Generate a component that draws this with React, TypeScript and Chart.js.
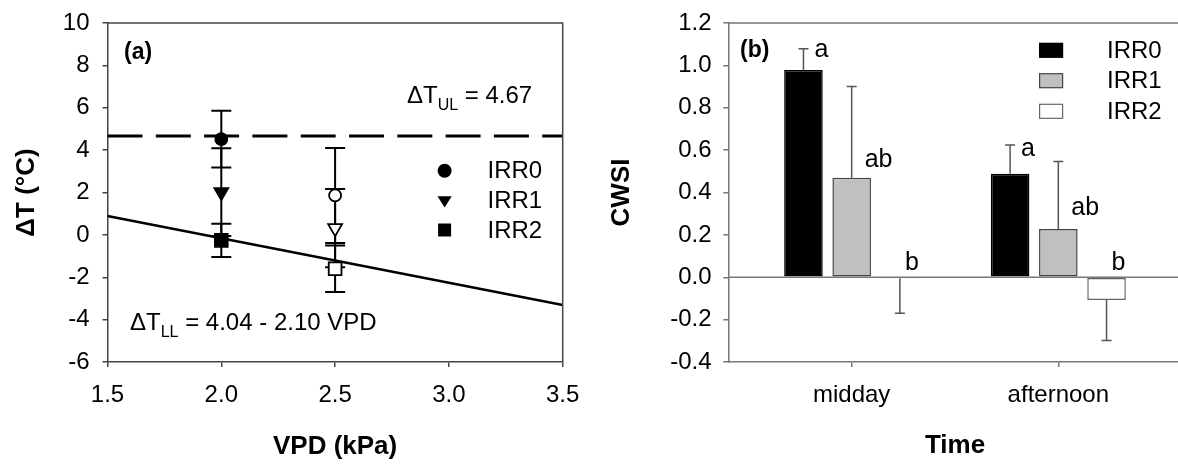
import React, { useEffect, useRef } from 'react';
import { Chart, registerables } from 'chart.js';

Chart.register(...registerables);

const FONT = "'Liberation Sans', Arial, Helvetica, sans-serif";
Chart.defaults.font.family = FONT;

// ---------- Panel (a) data ----------
const seriesNames = ['IRR0', 'IRR1', 'IRR2'];
const vpdValues = [2.0, 2.5];
const irr0DeltaT = [4.52, 1.86];
const irr0DeltaTErr = [1.34, 2.24];
const irr1DeltaT = [2.02, 0.32];
const irr1DeltaTErr = [2.07, 1.85];
const irr2DeltaT = [-0.26, -1.6];
const irr2DeltaTErr = [0.78, 1.1];
const upperLimitValue = 4.67;
const lineXRange = [1.5, 3.5];
const lowerLimitY = [0.89, -3.31];
const xTicksA = [1.5, 2.0, 2.5, 3.0, 3.5];
const yTicksA = [-6, -4, -2, 0, 2, 4, 6, 8, 10];

// ---------- Panel (b) data ----------
const timeCategories = ['midday', 'afternoon'];
const irr0Cwsi = [0.978, 0.488];
const irr0CwsiErr = [0.1, 0.136];
const irr1Cwsi = [0.47, 0.228];
const irr1CwsiErr = [0.43, 0.318];
const irr2Cwsi = [-0.005, -0.107];
const irr2CwsiErr = [0.165, 0.192];
const irr0Letters = ['a', 'a'];
const irr1Letters = ['ab', 'ab'];
const irr2Letters = ['b', 'b'];
const irr0LetterLevel = [1.04, 0.57];
const irr1LetterLevel = [0.52, 0.294];
const irr2LetterLevel = [0.034, 0.034];
const yTicksB = [-0.4, -0.2, 0.0, 0.2, 0.4, 0.6, 0.8, 1.0, 1.2];

const tickFont = { family: FONT, size: 24 };
const titleFont = { family: FONT, size: 26, weight: 'bold' as const };

// ---------- helpers ----------
function drawParts(ctx: CanvasRenderingContext2D, x: number, y: number, parts: { t: string; size: number; dy: number; bold?: boolean }[]) {
  let cx = x;
  ctx.textAlign = 'left';
  ctx.textBaseline = 'alphabetic';
  for (const p of parts) {
    ctx.font = `${p.bold ? 'bold ' : ''}${p.size}px ${FONT}`;
    ctx.fillText(p.t, cx, y + p.dy);
    cx += ctx.measureText(p.t).width;
  }
}

function markerPath(ctx: CanvasRenderingContext2D, kind: string, x: number, y: number, s: number) {
  ctx.beginPath();
  if (kind === 'circle') {
    ctx.arc(x, y, s, 0, Math.PI * 2);
  } else if (kind === 'triangle') {
    ctx.moveTo(x - s * 0.95, y - s * 0.5);
    ctx.lineTo(x + s * 0.95, y - s * 0.5);
    ctx.lineTo(x, y + s * 1.0);
    ctx.closePath();
  } else {
    ctx.rect(x - s, y - s, 2 * s, 2 * s);
  }
}

// ---------- Panel (a) ----------
const pointSeries = [
  { name: seriesNames[0], values: irr0DeltaT, errors: irr0DeltaTErr, style: 'circle', radius: 6, rotation: 0 },
  { name: seriesNames[1], values: irr1DeltaT, errors: irr1DeltaTErr, style: 'triangle', radius: 8, rotation: 180 },
  { name: seriesNames[2], values: irr2DeltaT, errors: irr2DeltaTErr, style: 'rect', radius: 9, rotation: 0 },
];

const errorBarsA = {
  id: 'errorBarsA',
  beforeDatasetsDraw(chart: any) {
    const { ctx, scales } = chart;
    const x = scales.x, y = scales.y;
    ctx.save();
    ctx.strokeStyle = '#000';
    ctx.lineWidth = 2;
    pointSeries.forEach((s) => {
      s.values.forEach((v, i) => {
        const px = x.getPixelForValue(vpdValues[i]);
        const top = y.getPixelForValue(v + s.errors[i]);
        const bot = y.getPixelForValue(v - s.errors[i]);
        ctx.beginPath();
        ctx.moveTo(px, top);
        ctx.lineTo(px, bot);
        ctx.moveTo(px - 10, top);
        ctx.lineTo(px + 10, top);
        ctx.moveTo(px - 10, bot);
        ctx.lineTo(px + 10, bot);
        ctx.stroke();
      });
    });
    ctx.restore();
  },
};

const decorA = {
  id: 'decorA',
  afterDraw(chart: any) {
    const { ctx, chartArea } = chart;
    ctx.save();
    // frame top & right
    ctx.strokeStyle = '#444';
    ctx.lineWidth = 1.5;
    ctx.beginPath();
    ctx.moveTo(chartArea.left, chartArea.top);
    ctx.lineTo(chartArea.right, chartArea.top);
    ctx.lineTo(chartArea.right, chartArea.bottom);
    ctx.stroke();

    ctx.fillStyle = '#000';
    drawParts(ctx, 124, 59, [{ t: '(a)', size: 23, dy: 0, bold: true }]);
    drawParts(ctx, 407, 102.5, [
      { t: 'ΔT', size: 24, dy: 0 },
      { t: 'UL', size: 16, dy: 7 },
      { t: ' = 4.67', size: 24, dy: 0 },
    ]);
    drawParts(ctx, 130, 330, [
      { t: 'ΔT', size: 24, dy: 0 },
      { t: 'LL', size: 16, dy: 7 },
      { t: ' = 4.04 - 2.10 VPD', size: 24, dy: 0 },
    ]);

    // legend
    const legY = [170.7, 200, 230];
    const legSize = [7, 7.5, 6.5];
    pointSeries.forEach((s, i) => {
      ctx.fillStyle = '#000';
      markerPath(ctx, s.style, 444.6, legY[i], legSize[i]);
      ctx.fill();
      ctx.font = `24px ${FONT}`;
      ctx.textAlign = 'left';
      ctx.textBaseline = 'middle';
      ctx.fillText(s.name, 487.5, legY[i] + 1);
    });
    ctx.restore();
  },
};

function makeConfigA(): any {
  const scatterSets = pointSeries.map((s) => ({
    type: 'scatter',
    label: s.name,
    data: vpdValues.map((xv, i) => ({ x: xv, y: s.values[i] })),
    pointStyle: s.style,
    pointRadius: s.radius,
    pointRotation: s.rotation,
    pointBorderWidth: 1.8,
    pointBorderColor: '#000',
    pointBackgroundColor: ['#000', '#fff'],
    showLine: false,
    order: 0,
  }));
  return {
    type: 'scatter',
    data: {
      datasets: [
        {
          type: 'line',
          label: 'upper',
          data: lineXRange.map((xv) => ({ x: xv, y: upperLimitValue })),
          borderColor: '#000',
          borderWidth: 3,
          borderDash: [35, 13.3],
          pointRadius: 0,
          fill: false,
          order: 2,
        },
        {
          type: 'line',
          label: 'lower',
          data: lineXRange.map((xv, i) => ({ x: xv, y: lowerLimitY[i] })),
          borderColor: '#000',
          borderWidth: 2.5,
          pointRadius: 0,
          fill: false,
          order: 2,
        },
        ...scatterSets,
      ],
    },
    options: {
      responsive: false,
      animation: false,
      layout: { padding: { top: 23, right: 27.3, bottom: 0, left: 0 } },
      plugins: { legend: { display: false }, tooltip: { enabled: false } },
      scales: {
        x: {
          type: 'linear',
          min: 1.5,
          max: 3.5,
          afterBuildTicks: (s: any) => { s.ticks = xTicksA.map((v) => ({ value: v })); },
          afterFit: (s: any) => { s.height = 102; s.paddingLeft = 0; s.paddingRight = 0; },
          ticks: { callback: (v: any) => Number(v).toFixed(1), font: tickFont, color: '#000', padding: 14, maxRotation: 0, autoSkip: false },
          grid: { drawOnChartArea: false, tickLength: 5, color: '#444', lineWidth: 1.5 },
          border: { color: '#444', width: 1.5 },
          title: { display: true, text: 'VPD (kPa)', font: titleFont, color: '#000', padding: { top: 0, bottom: 2 } },
        },
        y: {
          type: 'linear',
          min: -6,
          max: 10,
          afterBuildTicks: (s: any) => { s.ticks = yTicksA.map((v) => ({ value: v })); },
          afterFit: (s: any) => { s.width = 107.5; s.paddingTop = 0; s.paddingBottom = 0; },
          ticks: { callback: (v: any) => String(v), font: tickFont, color: '#000', padding: 13, autoSkip: false },
          grid: { drawOnChartArea: false, tickLength: 5, color: '#444', lineWidth: 1.5 },
          border: { color: '#444', width: 1.5 },
          title: { display: true, text: 'ΔT (°C)', font: titleFont, color: '#000', padding: { top: 11, bottom: 0 } },
        },
      },
    },
    plugins: [errorBarsA, decorA],
  };
}

// ---------- Panel (b) ----------
const barSeries = [
  { name: seriesNames[0], values: irr0Cwsi, errors: irr0CwsiErr, letters: irr0Letters, level: irr0LetterLevel, fill: '#000000', border: '#000000', dx: 11 },
  { name: seriesNames[1], values: irr1Cwsi, errors: irr1CwsiErr, letters: irr1Letters, level: irr1LetterLevel, fill: '#c0c0c0', border: '#444444', dx: 13 },
  { name: seriesNames[2], values: irr2Cwsi, errors: irr2CwsiErr, letters: irr2Letters, level: irr2LetterLevel, fill: '#ffffff', border: '#666666', dx: 5 },
];

const decorB = {
  id: 'decorB',
  afterDatasetsDraw(chart: any) {
    const { ctx, chartArea, scales } = chart;
    const y = scales.y;
    ctx.save();
    // zero line
    const y0 = y.getPixelForValue(0);
    ctx.strokeStyle = '#777';
    ctx.lineWidth = 1.5;
    ctx.beginPath();
    ctx.moveTo(chartArea.left, y0);
    ctx.lineTo(chartArea.right, y0);
    ctx.stroke();
    // error bars
    ctx.strokeStyle = '#555';
    ctx.lineWidth = 1.5;
    barSeries.forEach((s, di) => {
      const meta = chart.getDatasetMeta(di);
      meta.data.forEach((bar: any, i: number) => {
        const v = s.values[i];
        const e = s.errors[i];
        const end = v >= 0 ? v + e : v - e;
        const py0 = y.getPixelForValue(v);
        const py1 = y.getPixelForValue(end);
        ctx.beginPath();
        ctx.moveTo(bar.x, py0);
        ctx.lineTo(bar.x, py1);
        ctx.moveTo(bar.x - 5, py1);
        ctx.lineTo(bar.x + 5, py1);
        ctx.stroke();
        // significance letters
        ctx.fillStyle = '#000';
        drawParts(ctx, bar.x + s.dx, y.getPixelForValue(s.level[i]), [{ t: s.letters[i], size: 25, dy: 0 }]);
      });
    });
    ctx.restore();
  },
  afterDraw(chart: any) {
    const { ctx, chartArea } = chart;
    ctx.save();
    ctx.strokeStyle = '#777';
    ctx.lineWidth = 1.5;
    ctx.beginPath();
    ctx.moveTo(chartArea.left, chartArea.top);
    ctx.lineTo(chartArea.right, chartArea.top);
    ctx.stroke();
    ctx.fillStyle = '#000';
    drawParts(ctx, 150, 57, [{ t: '(b)', size: 23, dy: 0, bold: true }]);
    const legY = [50.3, 80.7, 111.3];
    barSeries.forEach((s, i) => {
      ctx.fillStyle = s.fill;
      ctx.fillRect(449.6, legY[i] - 7, 23, 14);
      ctx.strokeStyle = s.border;
      ctx.lineWidth = 1.2;
      ctx.strokeRect(449.6, legY[i] - 7, 23, 14);
      ctx.fillStyle = '#000';
      ctx.font = `24px ${FONT}`;
      ctx.textAlign = 'left';
      ctx.textBaseline = 'middle';
      ctx.fillText(s.name, 517, legY[i] + 1);
    });
    ctx.restore();
  },
};

function makeConfigB(): any {
  return {
    type: 'bar',
    data: {
      datasets: barSeries.map((s) => ({
        label: s.name,
        data: timeCategories.map((_, i) => ({ x: i, y: s.values[i] })),
        backgroundColor: s.fill,
        borderColor: s.border,
        borderWidth: 1.5,
        borderSkipped: false,
        categoryPercentage: 0.7,
        barPercentage: 0.8,
      })),
    },
    options: {
      responsive: false,
      animation: false,
      layout: { padding: { top: 23, right: 8.3, bottom: 0, left: 0 } },
      plugins: { legend: { display: false }, tooltip: { enabled: false } },
      scales: {
        x: {
          type: 'linear',
          offset: false,
          min: -0.597,
          max: 1.597,
          afterBuildTicks: (s: any) => { s.ticks = timeCategories.map((_, i) => ({ value: i })); },
          afterFit: (s: any) => { s.height = 102; s.paddingLeft = 0; s.paddingRight = 0; },
          ticks: { callback: (v: any) => timeCategories[Math.round(Number(v))] ?? '', font: tickFont, color: '#000', padding: 14, maxRotation: 0, autoSkip: false },
          grid: { offset: false, drawOnChartArea: false, tickLength: 5, color: '#777', lineWidth: 1.5 },
          border: { color: '#777', width: 1.5 },
          title: { display: true, text: 'Time', font: titleFont, color: '#000', padding: { top: 0, bottom: 3 } },
        },
        y: {
          type: 'linear',
          min: -0.4,
          max: 1.2,
          afterBuildTicks: (s: any) => { s.ticks = yTicksB.map((v) => ({ value: v })); },
          afterFit: (s: any) => { s.width = 138.3; s.paddingTop = 0; s.paddingBottom = 0; },
          ticks: { callback: (v: any) => Number(v).toFixed(1), font: tickFont, color: '#000', padding: 11.7, autoSkip: false },
          grid: { drawOnChartArea: false, tickLength: 5, color: '#777', lineWidth: 1.5 },
          border: { color: '#777', width: 1.5 },
          title: { display: true, text: 'CWSI', font: titleFont, color: '#000', padding: { top: 16, bottom: 0 } },
        },
      },
    },
    plugins: [decorB],
  };
}

export default function App() {
  const refA = useRef<HTMLCanvasElement>(null);
  const refB = useRef<HTMLCanvasElement>(null);
  useEffect(() => {
    const a = new Chart(refA.current as HTMLCanvasElement, makeConfigA());
    const b = new Chart(refB.current as HTMLCanvasElement, makeConfigB());
    return () => {
      a.destroy();
      b.destroy();
    };
  }, []);
  return (
    <div style={{ position: 'fixed', left: 0, top: 0, width: 1178, height: 464, overflow: 'hidden', background: '#fff' }}>
      <canvas ref={refA} width={590} height={464} style={{ position: 'absolute', left: 0, top: 0 }} />
      <canvas ref={refB} width={600} height={464} style={{ position: 'absolute', left: 590, top: 0 }} />
    </div>
  );
}
